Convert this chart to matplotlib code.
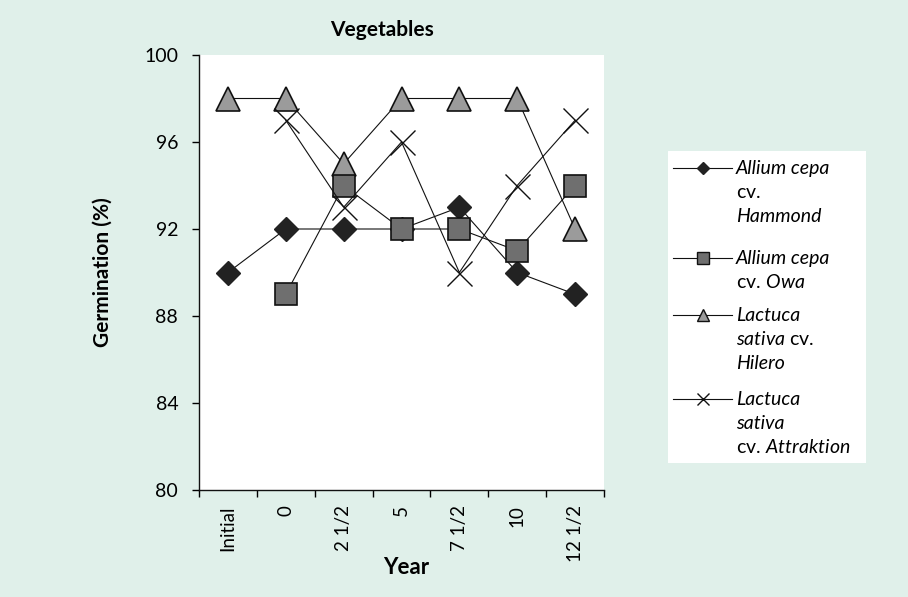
import numpy as np
import matplotlib.pyplot as plt

plt.rcParams['font.family'] = ['Lato', 'DejaVu Sans']
plt.rcParams['mathtext.fontset'] = 'custom'
plt.rcParams['mathtext.rm'] = 'Lato'
plt.rcParams['mathtext.it'] = 'Lato:italic'

# Data
years = ['Initial', '0', '2 1/2', '5', '7 1/2', '10', '12 1/2']
hammond = [90, 92, 92, 92, 93, 90, 89]
owa = [np.nan, 89, 94, 92, 92, 91, 94]
hilero = [98, 98, 95, 98, 98, 98, 92]
attraktion = [np.nan, 97, 93, 96, 90, 94, 97]

series = [hammond, owa, hilero, attraktion]
labels = ['Allium cepa\n$\\mathrm{cv.}$\nHammond',
          'Allium cepa\n$\\mathrm{cv.}\\,\\mathit{Owa}$',
          'Lactuca\nsativa $\\mathrm{cv.}$\nHilero',
          'Lactuca\nsativa\n$\\mathrm{cv.}\\,\\mathit{Attraktion}$']

styles = [
    dict(marker='D', ms=12, mfc='#222222', mec='#222222', zorder=3),
    dict(marker='s', ms=16.5, mfc='#6f6f6f', mec='#111111', mew=1.2, zorder=5),
    dict(marker='^', ms=17, mfc='#9b9b9b', mec='#111111', mew=1.2, zorder=4),
    dict(marker='x', ms=18, mec='#111111', mew=1.0, zorder=6),
]
legend_ms = [6, 8, 9, 9]

bg = '#e0f0ea'
fig = plt.figure(figsize=(9.08, 5.97), dpi=100, facecolor=bg)
ax = fig.add_axes([199 / 908, 1 - 490 / 597, 405 / 908, 435 / 597])
ax.set_facecolor('white')

x = np.arange(len(years))
for vals, st in zip(series, styles):
    ax.plot(x, vals, color='#111111', lw=0.8, **st)

ax.set_xlim(-0.5, len(years) - 0.5)
ax.set_ylim(80, 100)
ax.set_yticks(np.arange(80, 101, 4))
ax.set_xticks(x)
ax.set_xticklabels(years, rotation=90)
ax.set_xticks(np.arange(-0.5, len(years), 1), minor=True)
ax.tick_params(axis='x', which='major', length=0, pad=11, labelsize=13.5)
ax.tick_params(axis='x', which='minor', length=5, width=1, direction='out')
ax.tick_params(axis='y', length=5, width=1, direction='out', pad=10, labelsize=14)
for s in ['top', 'right']:
    ax.spines[s].set_visible(False)
for s in ['left', 'bottom']:
    ax.spines[s].set_linewidth(1)
    ax.spines[s].set_color('#111111')

fig.text(382 / 908, 1 - 30 / 597, 'Vegetables', ha='center', va='center',
         fontsize=15, fontweight='bold')
fig.text(103 / 908, 1 - 272 / 597, 'Germination (%)', ha='center', va='center',
         rotation=90, fontsize=15, fontweight='bold')
fig.text(406 / 908, 1 - 568 / 597, 'Year', ha='center', va='center',
         fontsize=16, fontweight='bold')

# Legend box drawn by hand so the key sits on the first line of each label
lax = fig.add_axes([668 / 908, 1 - 463 / 597, 198 / 908, 312 / 597])
lax.set_xlim(0, 198)
lax.set_ylim(312, 0)
lax.axis('off')
lax.add_patch(plt.Rectangle((0, 0), 198, 312, color='white', zorder=0))
entry_y = [17, 107, 164, 248]
for ey, lab, st, lms in zip(entry_y, labels, styles, legend_ms):
    kw = {k: v for k, v in st.items() if k != 'zorder'}
    kw['ms'] = lms
    kw['mew'] = 1.0
    lax.plot([5, 34.5, 64], [ey, ey, ey], color='#111111', lw=0.8,
             markevery=[1], **kw)
    for i, line in enumerate(lab.split('\n')):
        lax.text(68, ey + 6 + 24 * i, line, ha='left', va='baseline',
                 fontsize=14, fontstyle='italic')

fig.savefig('out.png', dpi=100, facecolor=bg)
